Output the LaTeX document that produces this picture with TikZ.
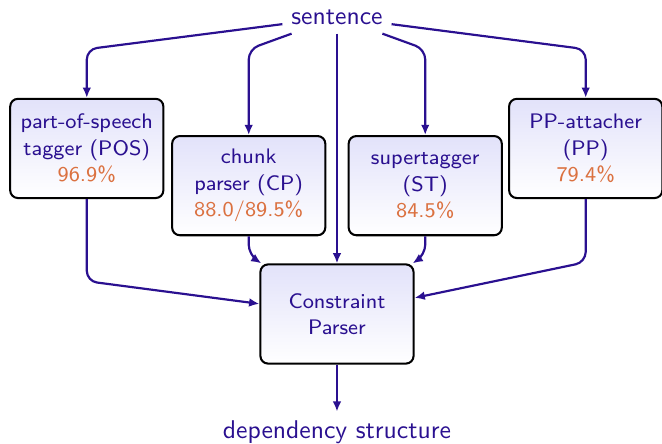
\documentclass[tikz,border=0pt]{standalone}
\usepackage{tikz}
\usetikzlibrary{arrows.meta}
\definecolor{linkc}{HTML}{2A1090}
\definecolor{accc}{HTML}{DB7140}
\definecolor{modtop}{HTML}{E2E2FA}
\tikzset{
  >={Latex[length=4pt,width=3.4pt]},
  mod/.style={draw=black,line width=0.8pt,rounded corners=3pt,top color=modtop,bottom color=white,
    minimum width=2.1cm,minimum height=1.36cm,inner sep=1pt,align=center,text=linkc,
    font=\sffamily\fontsize{8.2}{10.3}\selectfont},
  lbl/.style={font=\sffamily,text=linkc},
  link/.style={->,line width=0.85pt,draw=linkc,rounded corners=4pt},
}
\newcommand{\acc}[1]{{\color{accc}#1}}

\begin{document}
\begin{tikzpicture}
  \useasboundingbox (-4.62,-1.78) rectangle (4.456,4.305);
  \node[mod] (cpar) at (0,0) {Constraint\\Parser};
  \node[lbl] (sent) at (0,4.07) {sentence};
  \node[lbl] (dep) at (0,-1.62) {dependency structure};
  \node[mod] (pos) at (-3.43,2.27) {part-of-speech\\tagger (POS)\\\acc{96.9\%}};
  \node[mod] (cp) at (-1.21,1.76) {chunk\\parser (CP)\\\acc{88.0/89.5\%}};
  \node[mod] (st) at (1.21,1.76) {supertagger\\(ST)\\\acc{84.5\%}};
  \node[mod] (pp) at (3.41,2.27) {PP-attacher\\(PP)\\\acc{79.4\%}};
  % sentence to every module
  \foreach \m in {pos,cp,st,pp} \draw[link] (sent) -- (\m.north |- 0,3.63) -- (\m);
  \draw[link] (sent) -- (cpar);
  % modules into the parser
  \foreach \m/\y in {pos/0.45,cp/0.81,st/0.81,pp/0.71} \draw[link] (\m) -- (\m.south |- 0,\y) -- (cpar);
  \draw[link] (cpar) -- (dep);
\end{tikzpicture}
\end{document}
